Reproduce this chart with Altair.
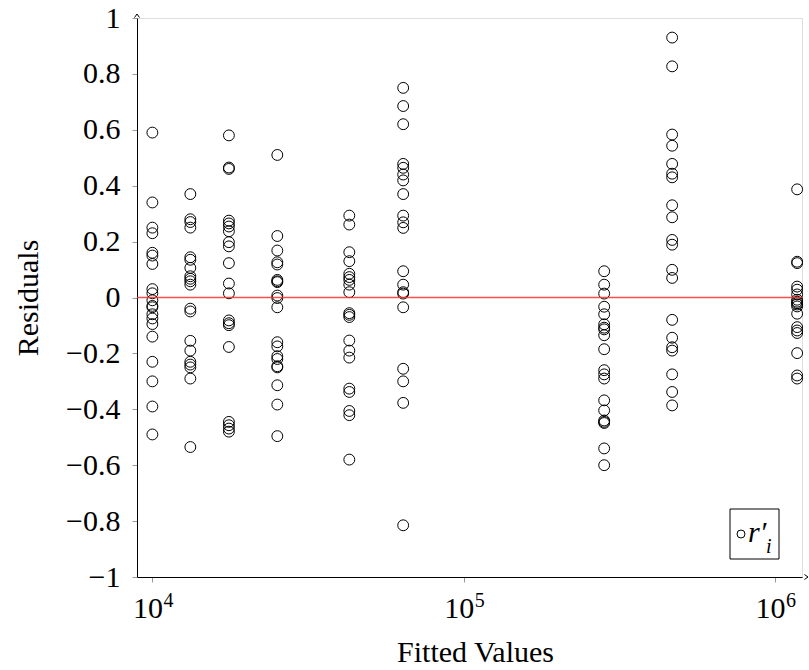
import altair as alt
import pandas as pd

# Fitted values (x positions of the 9 groups)
fitted = [1.0e4, 1.324e4, 1.761e4, 2.519e4, 4.29e4, 6.39e4, 2.825e5, 4.67e5, 1.177e6]

# Residuals, one list per fitted value
res1 = [0.59, 0.34, 0.25, 0.23, 0.16, 0.15, 0.12, 0.03, 0.015, -0.01, -0.03, -0.035,
        -0.06, -0.075, -0.095, -0.14, -0.23, -0.30, -0.39, -0.49]
res2 = [0.37, 0.28, 0.27, 0.25, 0.144, 0.135, 0.106, 0.076, 0.067, 0.058, 0.046,
        -0.04, -0.05, -0.155, -0.19, -0.23, -0.24, -0.25, -0.29, -0.535]
res3 = [0.58, 0.465, 0.46, 0.275, 0.265, 0.254, 0.237, 0.198, 0.183, 0.123, 0.05,
        0.015, -0.082, -0.092, -0.099, -0.177, -0.445, -0.457, -0.469, -0.48]
res4 = [0.51, 0.22, 0.168, 0.126, 0.118, 0.063, 0.058, 0.055, 0.007, -0.002, -0.035,
        -0.16, -0.175, -0.21, -0.22, -0.246, -0.25, -0.314, -0.383, -0.496]
res5 = [0.293, 0.261, 0.162, 0.13, 0.085, 0.073, 0.063, 0.046, 0.019, -0.056, -0.062,
        -0.07, -0.154, -0.19, -0.215, -0.326, -0.338, -0.406, -0.421, -0.58]
res6 = [0.75, 0.685, 0.62, 0.478, 0.464, 0.44, 0.419, 0.37, 0.293, 0.269, 0.249,
        0.094, 0.046, 0.019, 0.014, -0.035, -0.255, -0.30, -0.377, -0.815]
res7 = [0.094, 0.046, 0.014, -0.033, -0.06, -0.096, -0.108, -0.114, -0.135, -0.185,
        -0.26, -0.275, -0.29, -0.368, -0.404, -0.44, -0.445, -0.449, -0.54, -0.6]
res8 = [0.93, 0.827, 0.583, 0.543, 0.478, 0.443, 0.43, 0.33, 0.287, 0.206, 0.189,
        0.099, 0.07, -0.08, -0.144, -0.178, -0.19, -0.275, -0.338, -0.386]
res9 = [0.387, 0.128, 0.123, 0.039, 0.028, 0.011, -0.008, -0.015, -0.02, -0.025,
        -0.032, -0.058, -0.106, -0.118, -0.127, -0.199, -0.279, -0.29]

# x tick labels: base "10" with exponents
x_ticks = [1e4, 1e5, 1e6]
x_exponents = ["4", "5", "6"]
y_ticks = [-1, -0.8, -0.6, -0.4, -0.2, 0, 0.2, 0.4, 0.6, 0.8, 1]
zero_level = [0]

# legend entry text: r′ with subscript i
legend_main = "r′"
legend_sub = "i"

groups = [res1, res2, res3, res4, res5, res6, res7, res8, res9]
rows = []
for fv, rs in zip(fitted, groups):
    for r in rs:
        rows.append({"fitted": fv, "residual": r})
df = pd.DataFrame(rows)
exp_df = pd.DataFrame({"tick": x_ticks, "exp": x_exponents})
zero_df = pd.DataFrame({"z": zero_level})
one = pd.DataFrame({"a": [0]})

FONT = "Liberation Serif"
W, H = 665, 559

xscale = alt.Scale(type="log", domain=[8925, 1.22e6], nice=False)
yscale = alt.Scale(domain=[-1, 1], nice=False, zero=False)

points = alt.Chart(df).mark_point(
    shape="circle", filled=False, size=118, strokeWidth=1.0, opacity=1, color="black"
).encode(
    x=alt.X("fitted:Q", scale=xscale,
            axis=alt.Axis(values=x_ticks, labelExpr="'10'",
                          title="Fitted Values", labelOffset=-5,
                          labelBaseline="alphabetic", labelPadding=35,
                          titleX=338, titleY=84, titleBaseline="alphabetic")),
    y=alt.Y("residual:Q", scale=yscale,
            axis=alt.Axis(values=y_ticks, format="~g", title="Residuals",
                          labelPadding=12, titleAngle=-90,
                          titleAlign="center", titleBaseline="alphabetic",
                          titleX=-100, titleY=H / 2)),
)

exps = alt.Chart(exp_df).mark_text(
    font=FONT, fontSize=20, color="black", align="left", baseline="alphabetic", dx=11
).encode(
    x=alt.X("tick:Q", scale=xscale),
    y=alt.value(H + 30),
    text="exp:N",
)

zero_line = alt.Chart(zero_df).mark_rule().encode(
    y=alt.Y("z:Q", scale=yscale),
    color=alt.value("#ff3030"),
    strokeWidth=alt.value(1.4),
    opacity=alt.value(0.85),
)

arrow_x = alt.Chart(one).mark_point(
    shape="M-1,-0.7L0,0L-1,0.7", filled=False, stroke="black", strokeWidth=1, size=50, opacity=1
).encode(x=alt.value(W + 6), y=alt.value(H))

arrow_y = alt.Chart(one).mark_point(
    shape="M-1,-0.7L0,0L-1,0.7", filled=False, stroke="black", strokeWidth=1, size=50,
    angle=270, opacity=1
).encode(x=alt.value(0), y=alt.value(-4))

# legend box (upper-left corner at plot px 593, 491)
leg_box = alt.Chart(one).mark_rect(fill="white", stroke="black", strokeWidth=1).encode(
    x=alt.value(593), x2=alt.value(642), y=alt.value(491), y2=alt.value(541)
)
leg_sym = alt.Chart(one).mark_point(
    shape="circle", filled=False, size=64, strokeWidth=1, color="black", opacity=1
).encode(x=alt.value(604), y=alt.value(516))
leg_txt = alt.Chart(one).mark_text(
    font=FONT, fontSize=30, fontStyle="italic", color="black", align="left", baseline="alphabetic"
).encode(x=alt.value(611), y=alt.value(524), text=alt.value(legend_main))
leg_sub = alt.Chart(one).mark_text(
    font=FONT, fontSize=20, fontStyle="italic", color="black", align="left", baseline="alphabetic"
).encode(x=alt.value(629), y=alt.value(535), text=alt.value(legend_sub))

chart = alt.layer(points, zero_line, exps, arrow_x, arrow_y,
                  leg_box, leg_sym, leg_txt, leg_sub).properties(
    width=W, height=H,
    autosize=alt.AutoSizeParams(type="none"),
    padding={"left": 137, "top": 18, "right": 7, "bottom": 93},
).configure_view(stroke=None).configure(background="white").configure_axis(
    grid=False, domainColor="black", domainWidth=1,
    tickColor="#999999", tickSize=5,
    labelFont=FONT, labelFontSize=30, labelColor="black",
    labelFlush=False, labelOverlap=False,
    titleFont=FONT, titleFontSize=30, titleFontWeight="normal", titleColor="black",
)

chart.save("out.html", embed_options={"renderer": "svg", "actions": False})
